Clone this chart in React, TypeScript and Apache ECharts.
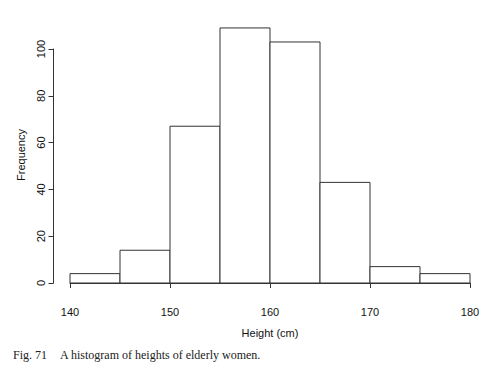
import React, { useEffect, useRef } from "react";
import * as echarts from "echarts";

const breaks = [140, 145, 150, 155, 160, 165, 170, 175, 180];
const counts = [4, 14, 67, 109, 103, 43, 7, 4];
const xTitle = "Height (cm)";
const yTitle = "Frequency";
const captionFig = "Fig. 71";
const captionText = "A histogram of heights of elderly women.";

export default function App() {
  const ref = useRef<HTMLDivElement>(null);
  useEffect(() => {
    if (!ref.current) return;
    const chart = echarts.init(ref.current, null, { renderer: "svg" });
    const data = counts.map((c, i) => [breaks[i], breaks[i + 1], c]);
    const axisColor = "#333333";
    const textColor = "#111111";
    const font = "'Liberation Sans', Arial, sans-serif";
    chart.setOption({
      animation: false,
      backgroundColor: "#ffffff",
      grid: { left: 70, top: 49, width: 400, height: 234 },
      xAxis: {
        type: "value",
        min: 140,
        max: 180,
        interval: 10,
        offset: 10.5,
        name: xTitle,
        nameLocation: "middle",
        nameGap: 34,
        nameTextStyle: { color: textColor, fontSize: 11, fontFamily: font },
        axisLine: { show: true, lineStyle: { color: axisColor, width: 1 } },
        axisTick: { show: true, length: 5, lineStyle: { color: axisColor } },
        axisLabel: { color: textColor, fontSize: 11, fontFamily: font, margin: 13 },
        splitLine: { show: false },
      },
      yAxis: {
        type: "value",
        min: 0,
        max: 100,
        interval: 20,
        offset: 16.5,
        name: yTitle,
        nameLocation: "middle",
        nameGap: 27,
        nameRotate: 90,
        nameTextStyle: {
          color: textColor,
          fontSize: 11,
          fontFamily: font,
          padding: [0, 0, 0, 22],
        },
        axisLine: { show: true, lineStyle: { color: axisColor, width: 1 } },
        axisTick: { show: true, length: 5, lineStyle: { color: axisColor } },
        axisLabel: { color: textColor, fontSize: 11, fontFamily: font, rotate: 90, margin: 7 },
        splitLine: { show: false },
      },
      series: [
        {
          type: "custom",
          clip: false,
          data,
          renderItem: (params: any, api: any) => {
            const p0 = api.coord([api.value(0), 0]);
            const p1 = api.coord([api.value(1), api.value(2)]);
            return {
              type: "rect",
              shape: {
                x: p0[0],
                y: p1[1],
                width: p1[0] - p0[0],
                height: p0[1] - p1[1],
              },
              style: { fill: "#ffffff", stroke: "#333333", lineWidth: 1 },
            };
          },
        },
      ],
      graphic: [
        {
          type: "text",
          left: 13,
          top: 349,
          style: {
            text: captionFig,
            fill: "#222",
            font: "12px 'Liberation Serif', 'Times New Roman', serif",
          },
        },
        {
          type: "text",
          left: 60,
          top: 349,
          style: {
            text: captionText,
            fill: "#222",
            font: "12px 'Liberation Serif', 'Times New Roman', serif",
          },
        },
      ],
    });
    return () => chart.dispose();
  }, []);
  return (
    <div
      ref={ref}
      style={{ position: "fixed", left: 0, top: 0, width: 490, height: 371, background: "#fff" }}
    />
  );
}
